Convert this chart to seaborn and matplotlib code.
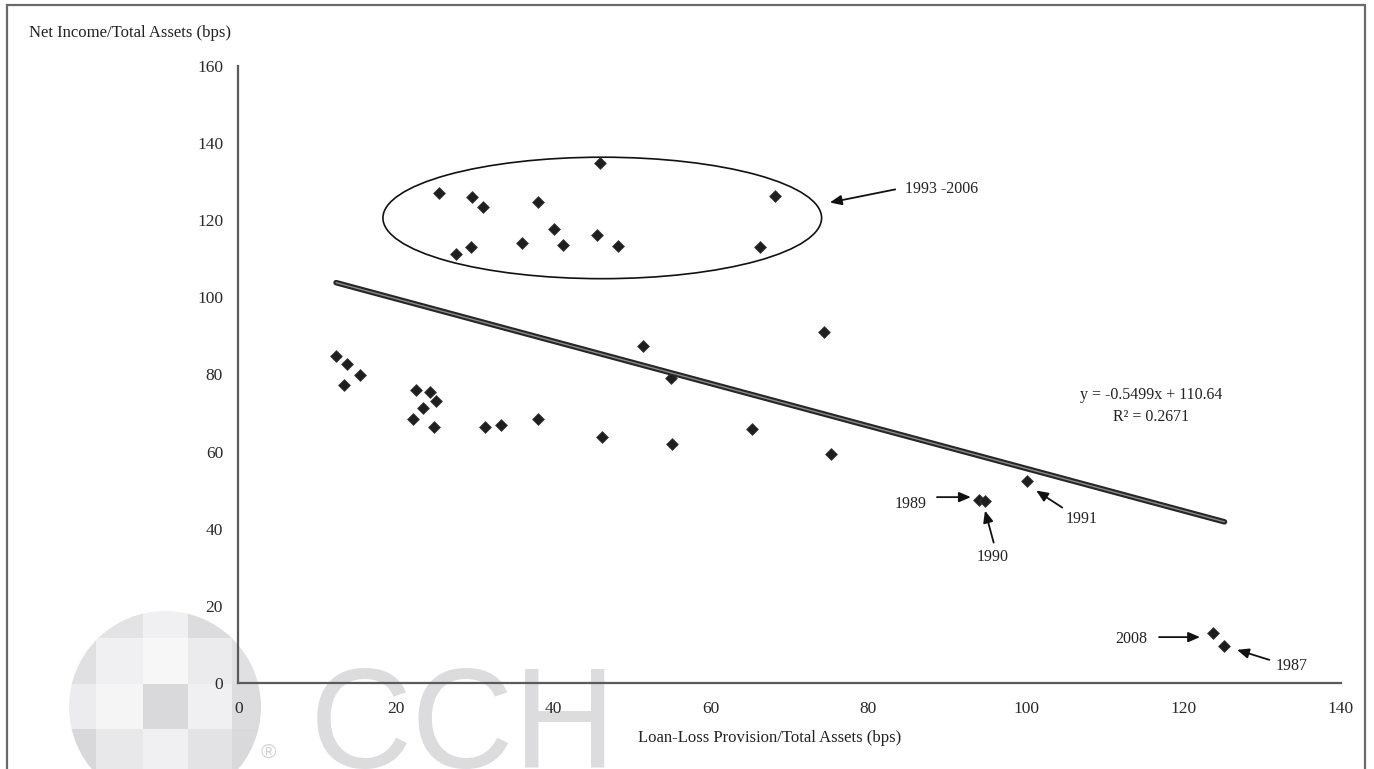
import numpy as np
import pandas as pd
import seaborn as sns
import matplotlib
matplotlib.use('Agg')
import matplotlib.pyplot as plt
from matplotlib.patches import Ellipse, Circle, Rectangle

# Data
provision = [25.5, 29.6, 31.1, 38.1, 45.9, 68.1, 40.1, 45.5, 36.0, 41.2, 48.2, 29.5, 27.6, 66.2,
             12.4, 13.8, 15.4, 13.4, 22.5, 24.3, 25.1, 23.5, 22.2, 24.8, 31.3, 33.3, 38.1, 46.2,
             51.4, 54.9, 55.1, 65.2, 75.3, 74.4,
             94.0, 94.8, 100.1, 123.8, 125.2]
net_income = [127.0, 126.0, 123.4, 124.7, 134.8, 126.3, 117.8, 116.1, 114.2, 113.6, 113.2, 113.0, 111.3, 113.1,
              84.9, 82.6, 79.8, 77.4, 75.9, 75.5, 73.0, 71.3, 68.4, 66.3, 66.4, 66.8, 68.5, 63.8,
              87.4, 79.2, 61.9, 65.9, 59.4, 91.1,
              47.4, 47.2, 52.4, 12.9, 9.6]
slope = -0.5499
intercept = 110.64
r_squared = 0.2671
x_ticks = [0, 20, 40, 60, 80, 100, 120, 140]
y_ticks = [0, 20, 40, 60, 80, 100, 120, 140, 160]

# annotations: label, text position, arrow tail, arrow tip
ann_labels = ['1989', '1990', '1991', '2008', '1987']
ann_text = [(85.4, 46.4), (95.8, 32.7), (107.1, 42.4), (113.4, 11.3), (133.7, 4.4)]
ann_tail = [(88.7, 48.2), (95.9, 36.4), (104.6, 45.5), (116.9, 11.9), (130.9, 6.0)]
ann_tip = [(93.0, 48.2), (94.8, 44.7), (101.3, 49.9), (122.1, 11.9), (126.8, 8.6)]

df = pd.DataFrame({'x': provision, 'y': net_income})
trend_x = np.array([min(provision), max(provision)])
trend_df = pd.DataFrame({'x': trend_x, 'y': slope * trend_x + intercept})

sns.set_style('white')
plt.rcParams['font.family'] = ['Liberation Serif', 'DejaVu Serif']

W, H = 1374, 769
fig = plt.figure(figsize=(W / 100, H / 100), dpi=100)
ax = fig.add_axes([238.4 / W, 1 - 683 / H, (1341 - 238.4) / W, (683 - 66) / H])
ax.set_facecolor('none')

# watermark (behind the axes)
circle = Circle((1.65, (H - 707) / 100), 0.96, transform=fig.dpi_scale_trans,
                facecolor='none', edgecolor='none')
fig.patches.append(circle)
col_edges = [51, 96, 143, 188, 232, 277]
row_edges = [593, 638, 684, 729, 774]
cell_colors = [['#e6e6e8', '#e3e3e5', '#f0f0f2', '#dcdcde', '#e6e6e8'],
               ['#e0e0e2', '#f0f0f2', '#f7f7f8', '#ebebed', '#e0e0e2'],
               ['#ececee', '#f5f5f6', '#d9d9db', '#f0f0f2', '#dcdcde'],
               ['#d8d8da', '#e8e8ea', '#f0f0f2', '#e3e3e5', '#d9d9db']]
for r in range(4):
    for c in range(5):
        rect = Rectangle((col_edges[c] / 100, (H - row_edges[r + 1]) / 100),
                         (col_edges[c + 1] - col_edges[c]) / 100,
                         (row_edges[r + 1] - row_edges[r]) / 100,
                         transform=fig.dpi_scale_trans, facecolor=cell_colors[r][c],
                         edgecolor='none', zorder=-2)
        rect.set_clip_path(circle)
        fig.patches.append(rect)
fig.text(310 / W, 1 - 768 / H, 'CCH', fontsize=102, color='#dcdcde', zorder=-1,
         family=['Liberation Sans', 'DejaVu Sans'], ha='left', va='baseline')
fig.text(268 / W, 1 - 752 / H, '®', fontsize=15, color='#d4d4d6', zorder=-1,
         family=['Liberation Sans', 'DejaVu Sans'], ha='center', va='center')

# figure border
fig.patches.append(Rectangle((7 / W, -0.02), (1365 - 7) / W, 1.02 - 5 / H,
                             transform=fig.transFigure, facecolor='none',
                             edgecolor='#6a6a6a', linewidth=1.6, zorder=5))

# points and trend line
sns.scatterplot(data=df, x='x', y='y', marker='D', s=36, color='#1e1e1e',
                edgecolor='#3a3a3a', linewidth=0.6, ax=ax, zorder=3)
sns.lineplot(data=trend_df, x='x', y='y', color='#262626', linewidth=4.0, ax=ax, zorder=4)
sns.lineplot(data=trend_df, x='x', y='y', color='#8a8a8a', linewidth=1.0, ax=ax, zorder=5)

# ellipse around 1993-2006
ax.add_patch(Ellipse((46.2, 120.6), 55.7, 31.5, facecolor='none', edgecolor='#111111',
                     linewidth=1.2, zorder=2))
ax.annotate('', xy=(75.1, 124.6), xytext=(83.4, 128.0),
            arrowprops=dict(arrowstyle='-|>,head_length=0.7,head_width=0.3',
                            color='#111111', lw=1.3, shrinkA=0, shrinkB=0))
ax.text(84.7, 128.0, '1993 -2006', fontsize=11.5, color='#222222', ha='left', va='center')

for lab, txt, tail, tip in zip(ann_labels, ann_text, ann_tail, ann_tip):
    ax.annotate('', xy=tip, xytext=tail,
                arrowprops=dict(arrowstyle='-|>,head_length=0.7,head_width=0.3',
                                color='#111111', lw=1.3, shrinkA=0, shrinkB=0))
    ax.text(txt[0], txt[1], lab, fontsize=11.5, color='#222222', ha='center', va='center')

ax.text(115.9, 74.7, 'y = {:.4f}x + {:.2f}'.format(slope, intercept), fontsize=11.5,
        color='#222222', ha='center', va='center')
ax.text(115.9, 69.0, 'R² = {:.4f}'.format(r_squared), fontsize=11.5,
        color='#222222', ha='center', va='center')

# axes styling
ax.set_xlim(0, 140)
ax.set_ylim(0, 160)
ax.set_xticks(x_ticks)
ax.set_yticks(y_ticks)
for side in ['top', 'right']:
    ax.spines[side].set_visible(False)
for side in ['left', 'bottom']:
    ax.spines[side].set_color('#5a5a5a')
    ax.spines[side].set_linewidth(1.6)
ax.tick_params(axis='both', direction='out', length=4, width=1.2, color='#5a5a5a',
               labelsize=12.5, labelcolor='#2a2a2a')
ax.tick_params(axis='x', pad=9)
ax.tick_params(axis='y', pad=7)
ax.set_ylabel('')
ax.set_xlabel('Loan-Loss Provision/Total Assets (bps)', fontsize=12, color='#222222')
ax.xaxis.set_label_coords((770 - 238.4) / (1341 - 238.4), (683 - 738) / (683 - 66))
ax.xaxis.label.set_verticalalignment('center')
fig.text(29 / W, 1 - 33 / H, 'Net Income/Total Assets (bps)', fontsize=12,
         color='#222222', ha='left', va='center')

fig.savefig('out.png', dpi=100)
